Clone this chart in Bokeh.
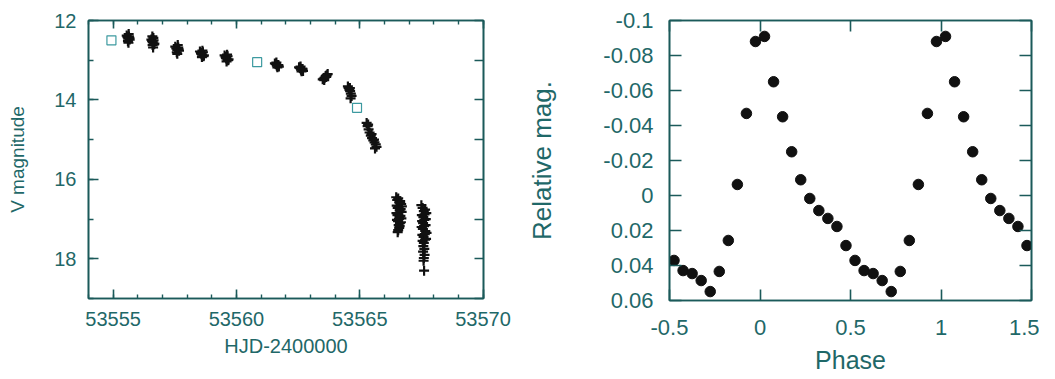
from bokeh.plotting import figure
from bokeh.layouts import row
from bokeh.models import (Range1d, LinearAxis, SingleIntervalTicker, FixedTicker,
                          BasicTickFormatter, CustomJSTickFormatter)
from bokeh.embed import file_html
from bokeh.resources import INLINE

TEXT = "#1f6868"
AXIS = "#1b5a5a"
FONT = "Liberation Sans"

# ---------------- left panel data: V light curve ----------------
# open squares (other observers)
sq_hjd = [53554.93, 53560.84, 53564.89]
sq_vmag = [12.50, 13.05, 14.20]

# crosses (time-series photometry), grouped by night
n1_hjd = [53555.55, 53555.58, 53555.61, 53555.64, 53555.67, 53555.60, 53555.63, 53555.66, 53555.62]
n1_mag = [12.38, 12.42, 12.46, 12.40, 12.48, 12.52, 12.34, 12.44, 12.56]
n2_hjd = [53556.55, 53556.58, 53556.61, 53556.64, 53556.67, 53556.60, 53556.63, 53556.66, 53556.62, 53556.59]
n2_mag = [12.48, 12.52, 12.55, 12.50, 12.58, 12.62, 12.44, 12.60, 12.68, 12.40]
n3_hjd = [53557.52, 53557.56, 53557.60, 53557.64, 53557.67, 53557.58, 53557.62, 53557.65, 53557.60]
n3_mag = [12.66, 12.70, 12.74, 12.68, 12.76, 12.80, 12.62, 12.72, 12.84]
n4_hjd = [53558.52, 53558.56, 53558.60, 53558.64, 53558.68, 53558.58, 53558.62, 53558.66, 53558.60]
n4_mag = [12.78, 12.82, 12.86, 12.80, 12.88, 12.84, 12.76, 12.90, 12.92]
n5_hjd = [53559.52, 53559.56, 53559.60, 53559.64, 53559.68, 53559.58, 53559.62, 53559.66, 53559.60]
n5_mag = [12.88, 12.92, 12.96, 12.90, 12.98, 12.94, 12.86, 13.00, 13.03]
n6_hjd = [53561.56, 53561.60, 53561.64, 53561.68, 53561.72, 53561.62, 53561.66, 53561.70]
n6_mag = [13.08, 13.10, 13.14, 13.12, 13.16, 13.06, 13.18, 13.12]
n7_hjd = [53562.54, 53562.58, 53562.62, 53562.66, 53562.70, 53562.60, 53562.64, 53562.68]
n7_mag = [13.18, 13.20, 13.24, 13.22, 13.27, 13.16, 13.28, 13.22]
n8_hjd = [53563.50, 53563.54, 53563.58, 53563.62, 53563.66, 53563.70, 53563.56, 53563.64]
n8_mag = [13.48, 13.46, 13.44, 13.40, 13.38, 13.35, 13.50, 13.42]
n9_hjd = [53564.52, 53564.55, 53564.58, 53564.61, 53564.64, 53564.67, 53564.60, 53564.63]
n9_mag = [13.66, 13.70, 13.74, 13.78, 13.84, 13.90, 13.70, 13.96]
n10_hjd = [53565.28, 53565.32, 53565.36, 53565.40, 53565.45, 53565.50, 53565.55, 53565.60,
           53565.65, 53565.68, 53565.34, 53565.48, 53565.58, 53565.62]
n10_mag = [14.58, 14.66, 14.74, 14.82, 14.90, 14.96, 15.02, 15.07, 15.12, 15.18, 14.62,
           14.86, 15.00, 15.22]
n11_hjd = [53566.48, 53566.52, 53566.56, 53566.60, 53566.64, 53566.68, 53566.71, 53566.50,
           53566.54, 53566.58, 53566.62, 53566.66, 53566.70, 53566.49, 53566.53, 53566.57,
           53566.61, 53566.65, 53566.69, 53566.51, 53566.55, 53566.59, 53566.63, 53566.67,
           53566.58, 53566.60, 53566.56, 53566.62, 53566.54, 53566.64]
n11_mag = [16.45, 16.52, 16.48, 16.58, 16.55, 16.62, 16.68, 16.66, 16.72, 16.70, 16.78, 16.75,
           16.82, 16.85, 16.90, 16.88, 16.95, 16.92, 16.98, 17.02, 17.05, 17.00, 17.10, 17.08,
           17.15, 17.22, 17.28, 17.18, 17.33, 16.60]
n12_hjd = [53567.50, 53567.55, 53567.60, 53567.65, 53567.70, 53567.52, 53567.58, 53567.63,
           53567.68, 53567.53, 53567.57, 53567.62, 53567.67, 53567.51, 53567.56, 53567.61,
           53567.66, 53567.71, 53567.54, 53567.59, 53567.64, 53567.69, 53567.55, 53567.60,
           53567.65, 53567.58, 53567.62, 53567.57, 53567.63, 53567.60, 53567.59, 53567.61]
n12_mag = [16.65, 16.72, 16.80, 16.76, 16.85, 16.90, 16.95, 16.88, 17.00, 17.05, 17.10, 17.02,
           17.15, 17.20, 17.25, 17.18, 17.30, 17.35, 17.40, 17.45, 17.38, 17.50, 17.55, 17.60,
           17.52, 17.68, 17.75, 17.82, 17.90, 17.98, 18.05, 18.30]

lc_hjd = (n1_hjd + n2_hjd + n3_hjd + n4_hjd + n5_hjd + n6_hjd + n7_hjd + n8_hjd + n9_hjd
          + n10_hjd + n11_hjd + n12_hjd)
lc_mag = (n1_mag + n2_mag + n3_mag + n4_mag + n5_mag + n6_mag + n7_mag + n8_mag + n9_mag
          + n10_mag + n11_mag + n12_mag)

# ---------------- right panel data: folded superhump profile ----------------
phase = [-0.475, -0.425, -0.375, -0.325, -0.275, -0.225, -0.175, -0.125, -0.075, -0.025,
         0.025, 0.075, 0.125, 0.175, 0.225, 0.275, 0.325, 0.375, 0.425, 0.475]
relmag = [0.0371, 0.0429, 0.0446, 0.0486, 0.0549, 0.0434, 0.0257, -0.0063, -0.0469, -0.0880,
          -0.0909, -0.0650, -0.0450, -0.0250, -0.0090, 0.0017, 0.0086, 0.0131, 0.0177, 0.0286]

# two cycles shown
phase_plot = phase + [p + 1 for p in phase]
relmag_plot = relmag + relmag


def style_axis(ax, size, tick_in, minor_in, standoff, lbl_standoff, lbl_size):
    ax.axis_line_color = AXIS
    ax.axis_line_width = 1.6
    ax.major_tick_line_color = AXIS
    ax.minor_tick_line_color = AXIS
    ax.major_tick_line_width = 1.6
    ax.minor_tick_line_width = 1.4
    ax.major_tick_in = tick_in
    ax.major_tick_out = 0
    ax.minor_tick_in = minor_in
    ax.minor_tick_out = 0
    ax.major_label_text_font = FONT
    ax.major_label_text_font_size = size
    ax.major_label_text_color = TEXT
    ax.major_label_standoff = standoff
    ax.axis_label_text_font = FONT
    ax.axis_label_text_font_style = "normal"
    ax.axis_label_text_font_size = lbl_size
    ax.axis_label_text_color = TEXT
    ax.axis_label_standoff = lbl_standoff


def mirror_axis(p, side, ticker, tick_in, minor_in):
    ax = LinearAxis(ticker=ticker, formatter=CustomJSTickFormatter(code="return ''"))
    ax.axis_line_color = AXIS
    ax.axis_line_width = 1.6
    ax.major_tick_line_color = AXIS
    ax.minor_tick_line_color = AXIS
    ax.major_tick_line_width = 1.6
    ax.minor_tick_line_width = 1.4
    ax.major_tick_in = tick_in
    ax.major_tick_out = 0
    ax.minor_tick_in = minor_in
    ax.minor_tick_out = 0
    ax.major_label_text_font_size = "1px"
    ax.major_label_standoff = 0
    p.add_layout(ax, side)


# ---------------- left figure ----------------
p1 = figure(frame_width=395, frame_height=278, output_backend="svg", toolbar_location=None,
            x_range=Range1d(53554, 53570.02), y_range=Range1d(19, 12),
            min_border_left=88, min_border_right=37, min_border_top=20, min_border_bottom=70)
p1.xgrid.visible = False
p1.ygrid.visible = False
p1.outline_line_color = AXIS
p1.outline_line_width = 1.6
p1.background_fill_color = "white"
p1.border_fill_color = "white"

xt1 = SingleIntervalTicker(interval=5, num_minor_ticks=5)
yt1 = SingleIntervalTicker(interval=2, num_minor_ticks=2)
p1.xaxis.ticker = xt1
p1.yaxis.ticker = yt1
p1.xaxis.formatter = BasicTickFormatter(use_scientific=False)
p1.xaxis.axis_label = "HJD-2400000"
p1.yaxis.axis_label = "V magnitude"
style_axis(p1.xaxis[0], "20px", 9, 4, 13, 6, "20px")
style_axis(p1.yaxis[0], "20px", 10, 5, 12, 23, "19px")
mirror_axis(p1, "above", SingleIntervalTicker(interval=5, num_minor_ticks=5), 8, 4)
mirror_axis(p1, "right", SingleIntervalTicker(interval=1, num_minor_ticks=0), 9, 0)

p1.scatter(lc_hjd, lc_mag, marker="cross", size=10, line_width=2.2, color="#111111")
p1.scatter(sq_hjd, sq_vmag, marker="square", size=9, fill_color=None,
           line_color="#3d9aa0", line_width=1.2)

# ---------------- right figure ----------------
p2 = figure(frame_width=362, frame_height=280, output_backend="svg", toolbar_location=None,
            x_range=Range1d(-0.5, 1.5), y_range=Range1d(0.06, -0.1),
            min_border_left=149, min_border_right=8, min_border_top=17, min_border_bottom=80)
p2.xgrid.visible = False
p2.ygrid.visible = False
p2.outline_line_color = AXIS
p2.outline_line_width = 1.6
p2.background_fill_color = "white"
p2.border_fill_color = "white"

xticks2 = [-0.5, 0.0, 0.5, 1.0, 1.5]
yticks2 = [-0.1, -0.08, -0.06, -0.04, -0.02, 0.0, 0.02, 0.04, 0.06]
p2.xaxis.ticker = FixedTicker(ticks=xticks2, minor_ticks=[])
p2.yaxis.ticker = FixedTicker(ticks=yticks2, minor_ticks=[])
p2.xaxis.formatter = CustomJSTickFormatter(code="return Number(tick.toFixed(2)).toString();")
p2.yaxis.formatter = CustomJSTickFormatter(code="return Number(tick.toFixed(2)).toString();")
p2.xaxis.axis_label = "Phase"
p2.yaxis.axis_label = "Relative mag."
style_axis(p2.xaxis[0], "22px", 11, 0, 19, 8, "25px")
style_axis(p2.yaxis[0], "22px", 12, 0, 16, 43, "26px")
mirror_axis(p2, "above", FixedTicker(ticks=xticks2, minor_ticks=[]), 11, 0)
mirror_axis(p2, "right", FixedTicker(ticks=yticks2, minor_ticks=[]), 12, 0)

p2.scatter(phase_plot, relmag_plot, marker="circle", size=10.5, fill_color="#111111",
           line_color="#111111")

layout = row(p1, p2)
open("out.html", "w").write(file_html(layout, INLINE))
